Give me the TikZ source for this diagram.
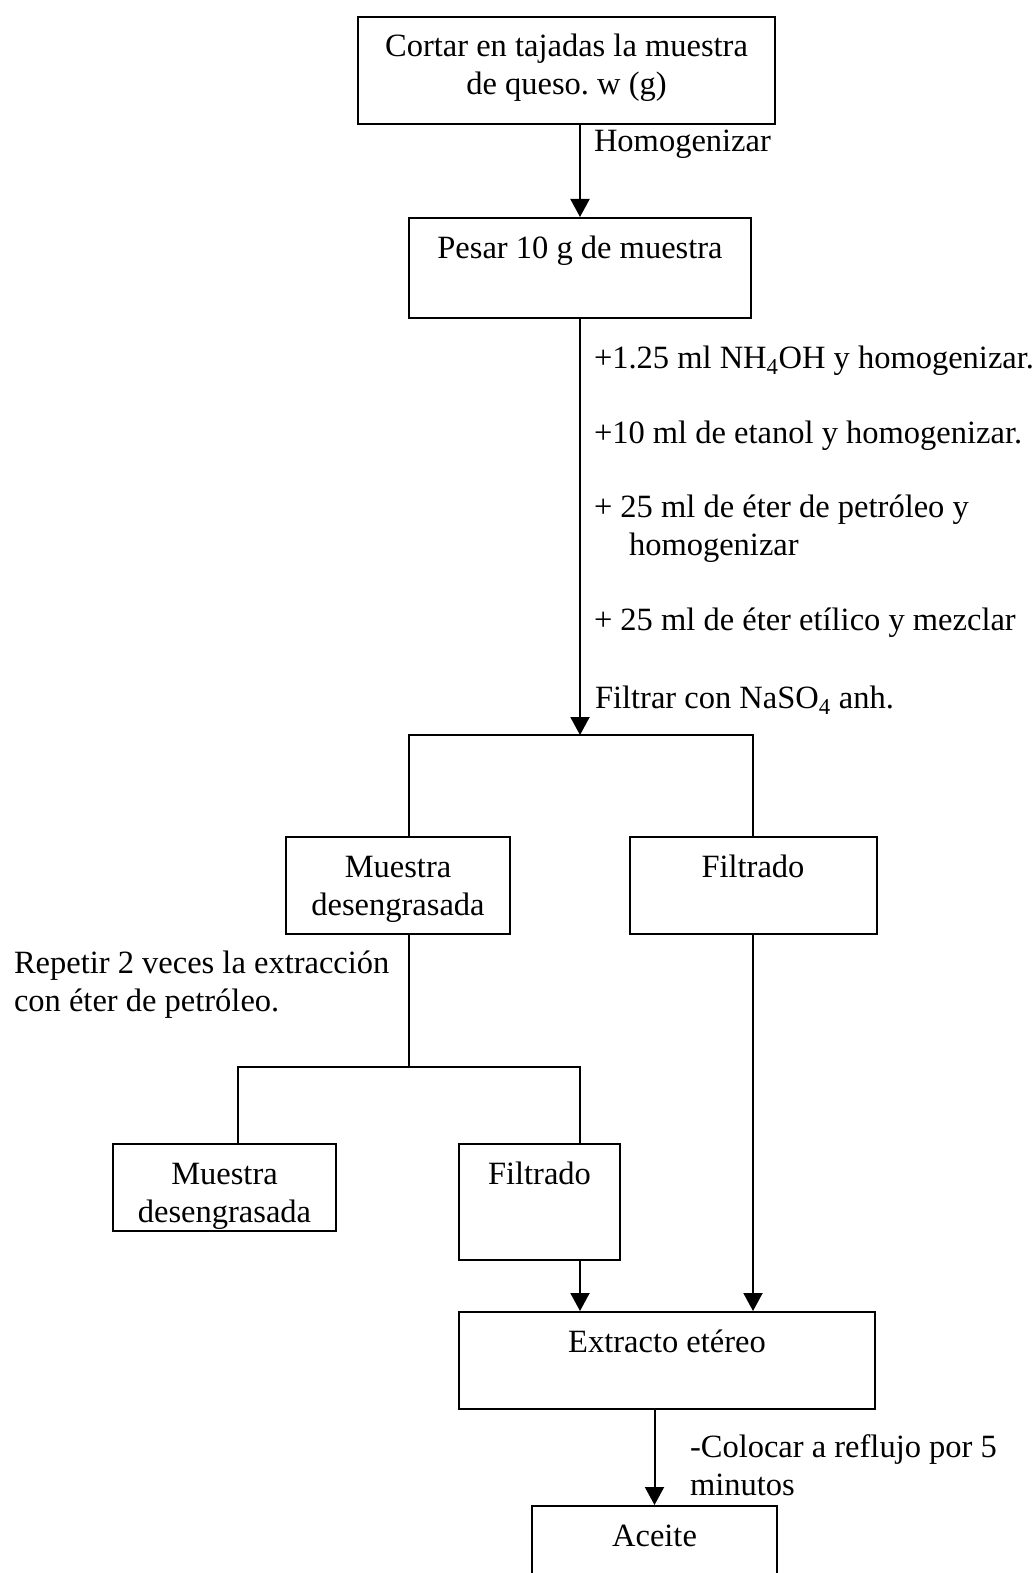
\documentclass[tikz,border=0pt]{standalone}
\usepackage{fontspec}
\setmainfont{Liberation Serif}
\frenchspacing
\usepackage{tikz}
\usetikzlibrary{arrows.meta,calc}
\tikzstyle{block} = [rectangle, draw, anchor=north, inner xsep=0pt, inner ysep=17pt, text height=23pt]
\tikzstyle{nota} = [anchor=base west, inner sep=0pt]
\newcommand{\lineasc}[1]{\begin{tabular}[t]{@{}c@{}}#1\end{tabular}}
\newcommand{\lineasi}[1]{\begin{tabular}[t]{@{}l@{}}#1\end{tabular}}

\begin{document}
\begin{tikzpicture}[x=1pt, y=-1pt, line width=2pt, >={Triangle[length=18pt,width=19pt]}, font=\fontsize{32.5}{38}\selectfont]
    \useasboundingbox (0,0) rectangle (1035,1573);

    % pasos principales
    \node[block, minimum width=417pt, text depth=50pt] (cortar) at (566.5,16) {\lineasc{Cortar en tajadas la muestra\\de queso. w (g)}};
    \node[block, minimum width=342pt, text depth=43pt] (pesar) at (580,217) {Pesar 10 g de muestra};

    % primera separacion
    \node[block, minimum width=224pt, text depth=40pt] (muestra1) at (398,836) {\lineasc{Muestra\\desengrasada}};
    \node[block, minimum width=247pt, text depth=40pt] (filtrado1) at (753,836) {Filtrado};

    % segunda separacion
    \node[block, minimum width=223pt, text depth=30pt] (muestra2) at (224.5,1143) {\lineasc{Muestra\\desengrasada}};
    \node[block, minimum width=161pt, text depth=59pt] (filtrado2) at (539.5,1143) {Filtrado};

    % producto
    \node[block, minimum width=416pt, text depth=40pt] (extracto) at (667,1311) {Extracto etéreo};
    \node[block, minimum width=245pt, text depth=53pt] (aceite) at (654.5,1505) {Aceite};

    % notas
    \node[nota] (homog) at (593,152) {Homogenizar};
    \node[nota] (nh4oh) at (593,368) {+1.25 ml NH\textsubscript{4}OH y homogenizar.};
    \node[nota] (etanol) at (593,443) {+10 ml de etanol y homogenizar.};
    \node[nota] (petroleo) at (593,517) {\lineasi{+ 25 ml de éter de petróleo y\\\hspace{35pt}homogenizar}};
    \node[nota] (etilico) at (593,630) {+ 25 ml de éter etílico y mezclar};
    \node[nota] (filtrar) at (594,708) {Filtrar con NaSO\textsubscript{4} anh.};
    \node[nota] (repetir) at (13,973) {\lineasi{Repetir 2 veces la extracción\\con éter de petróleo.}};
    \node[nota] (reflujo) at (689,1457) {\lineasi{-Colocar a reflujo por 5\\minutos}};

    % puntos de division
    \coordinate (div1) at (580,735);
    \coordinate (div1izq) at (409,735);
    \coordinate (div1der) at (753,735);
    \coordinate (div2) at (409,1067);
    \coordinate (div2izq) at (238,1067);
    \coordinate (div2der) at (580,1067);

    % conexiones
    \draw[->] (cortar.south -| pesar.north) -- (pesar.north);
    \draw[->] (pesar.south) -- (div1);
    \draw (muestra1.north -| div1izq) |- (div1der) -- (filtrado1.north -| div1der);
    \draw (muestra1.south -| div2) -- (div2);
    \draw (muestra2.north -| div2izq) |- (div2der) -- (filtrado2.north -| div2der);
    \draw[->] (filtrado2.south -| div2der) -- (extracto.north -| div2der);
    \draw[->] (filtrado1.south) -- (filtrado1.south |- extracto.north);
    \draw[->] (extracto.south -| aceite.north) -- (aceite.north);
\end{tikzpicture}
\end{document}
